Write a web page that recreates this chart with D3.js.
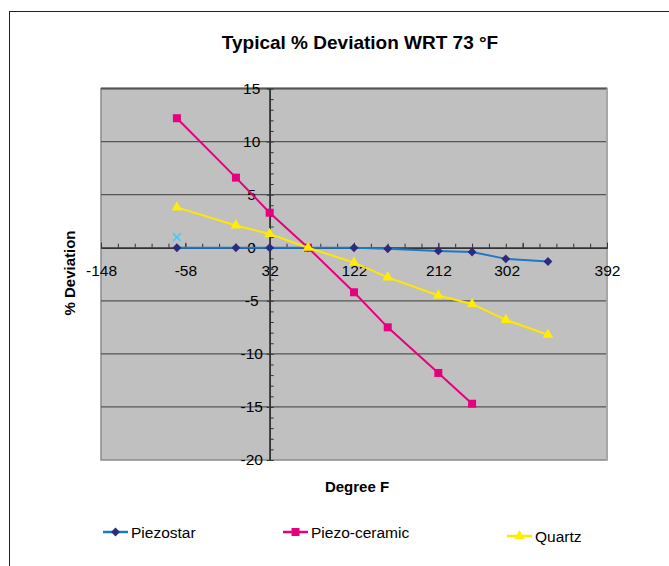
<!DOCTYPE html>
<html>
<head>
<meta charset="UTF-8">
<title>Typical % Deviation WRT 73 °F</title>
<script src="https://d3js.org/d3.v7.min.js"></script>
<style>
  body { margin: 0; background: #fff; }
  svg { display: block; font-family: "Liberation Sans", Arial, sans-serif; }
</style>
</head>
<body>
<svg width="669" height="566"></svg>
<script>
// data
const tempF        = [-67, -4, 32, 73, 122, 158, 212, 248, 284, 329];
const piezostar    = [0, 0, 0, 0, 0, -0.1, -0.3, -0.4, -1.05, -1.3];
const piezoCeramic = [12.2, 6.6, 3.3, 0, -4.2, -7.5, -11.8, -14.7];
const quartz       = [3.8, 2.1, 1.3, 0, -1.4, -2.8, -4.5, -5.3, -6.8, -8.2];
const strayX = [-67], strayY = [1.0];   // lone cyan x marker

const xTicks = [-148, -58, 32, 122, 212, 302, 392];
const yTicks = [-20, -15, -10, -5, 0, 5, 10, 15];
const seriesNames = ["Piezostar", "Piezo-ceramic", "Quartz"];

const svg = d3.select("svg");

// outer frame (runs off the right/bottom edge)
svg.append("rect").attr("x", 9.5).attr("y", 11.5).attr("width", 700).attr("height", 600)
  .attr("fill", "#fff").attr("stroke", "#222").attr("stroke-width", 1);

const x = d3.scaleLinear().domain([-148, 392]).range([101, 607]);
const y = d3.scaleLinear().domain([-20, 15]).range([460, 88.5]);

// plot area
svg.append("rect").attr("x", x(-148)).attr("y", y(15))
  .attr("width", x(392) - x(-148)).attr("height", y(-20) - y(15))
  .attr("fill", "#c0c0c0").attr("stroke", "#8a8a8a").attr("stroke-width", 1.5);

// horizontal gridlines
svg.append("g").selectAll("line")
  .data(yTicks.filter(d => d !== 0 && d !== -20))
  .join("line")
  .attr("x1", x(-148)).attr("x2", x(392))
  .attr("y1", d => y(d)).attr("y2", d => y(d))
  .attr("stroke", "#555").attr("stroke-width", d => d === 15 ? 2 : 1.2);

// right edge a bit lighter
svg.append("line").attr("x1", x(392)).attr("x2", x(392)).attr("y1", y(15)).attr("y2", y(-20))
  .attr("stroke", "#a6a6a6").attr("stroke-width", 2);

const axisCol = "#333";
const plain = d => String(d);   // ascii hyphen for negatives, like the original

// x axis at y = 0
const xMinor = svg.append("g").attr("transform", `translate(0,${y(0)})`)
  .call(d3.axisBottom(x).tickValues(d3.range(-148, 393, 18)).tickSize(-4).tickSizeOuter(0).tickFormat(""));
const xMajor = svg.append("g").attr("transform", `translate(0,${y(0)})`)
  .call(d3.axisBottom(x).tickValues(xTicks).tickSize(-5).tickSizeOuter(0).tickPadding(17).tickFormat(plain));
[xMinor, xMajor].forEach(g => {
  g.select(".domain").attr("stroke", axisCol).attr("stroke-width", 1.5);
  g.selectAll(".tick line").attr("stroke", axisCol).attr("stroke-width", 1);
});
xMajor.selectAll(".tick text")
  .attr("font-size", "15.5px").attr("fill", "#000").attr("font-family", "Liberation Sans, Arial")
  .attr("dx", d => d === 302 ? -16 : 0);

// y axis at x = 32
const yMinor = svg.append("g").attr("transform", `translate(${x(32)},0)`)
  .call(d3.axisRight(y).tickValues(d3.range(-20, 16, 1)).tickSize(4).tickSizeOuter(0).tickFormat(""));
const yMajor = svg.append("g").attr("transform", `translate(${x(32)},0)`)
  .call(d3.axisLeft(y).tickValues(yTicks).tickSize(3).tickSizeOuter(0).tickPadding(0).tickFormat(plain));
[yMinor, yMajor].forEach(g => {
  g.select(".domain").attr("stroke", axisCol).attr("stroke-width", 1.5);
  g.selectAll(".tick line").attr("stroke", axisCol).attr("stroke-width", 1);
});
yMajor.selectAll(".tick text")
  .attr("font-size", "15.5px").attr("fill", "#000").attr("font-family", "Liberation Sans, Arial")
  .attr("text-anchor", "middle").attr("x", -18);

// series
const series = [
  { name: seriesNames[0], xs: tempF, ys: piezostar,    line: "#1f78c4", fill: "#2b2b80", shape: d3.symbolDiamond2, size: 50 },
  { name: seriesNames[1], xs: tempF, ys: piezoCeramic, line: "#e6007e", fill: "#e6007e", shape: d3.symbolSquare,   size: 64 },
  { name: seriesNames[2], xs: tempF, ys: quartz,       line: "#ffe800", fill: "#ffee00", shape: d3.symbolTriangle, size: 48 }
];

const line = d3.line().x(d => x(d[0])).y(d => y(d[1]));

series.forEach(s => {
  const pts = s.ys.map((v, i) => [s.xs[i], v]);
  svg.append("path").datum(pts).attr("d", line)
    .attr("fill", "none").attr("stroke", s.line).attr("stroke-width", 2);
  svg.append("g").selectAll("path").data(pts).join("path")
    .attr("transform", d => `translate(${x(d[0])},${y(d[1])})`)
    .attr("d", d3.symbol().type(s.shape).size(s.size))
    .attr("fill", s.fill);
});

// stray cyan x
svg.append("g").selectAll("path").data(strayY.map((v, i) => [strayX[i], v])).join("path")
  .attr("transform", d => `translate(${x(d[0])},${y(d[1])})`)
  .attr("d", d3.symbol().type(d3.symbolX).size(40))
  .attr("fill", "none").attr("stroke", "#33ccff").attr("stroke-width", 1.3);

// titles
svg.append("text").attr("x", 360).attr("y", 49).attr("text-anchor", "middle")
  .attr("font-size", "19px").attr("font-weight", "bold").text("Typical % Deviation WRT 73 °F");
svg.append("text").attr("x", 357).attr("y", 492).attr("text-anchor", "middle")
  .attr("font-size", "15px").attr("font-weight", "bold").text("Degree F");
svg.append("text").attr("transform", "translate(75,273) rotate(-90)").attr("text-anchor", "middle")
  .attr("font-size", "15px").attr("font-weight", "bold").text("% Deviation");

// legend
const legendPos = [[103, 532], [283, 532], [507, 536]];
const leg = svg.append("g").selectAll("g").data(series).join("g")
  .attr("transform", (d, i) => `translate(${legendPos[i][0]},${legendPos[i][1]})`);
leg.append("line").attr("x1", 0).attr("x2", 25)
  .attr("stroke", d => d.line).attr("stroke-width", 2.5);
leg.append("path").attr("transform", "translate(12.5,0)")
  .attr("d", d => d3.symbol().type(d.shape).size(d.size)())
  .attr("fill", d => d.fill);
leg.append("text").attr("x", 28).attr("dy", "0.36em")
  .attr("font-size", "15.5px").text(d => d.name);
</script>
</body>
</html>
